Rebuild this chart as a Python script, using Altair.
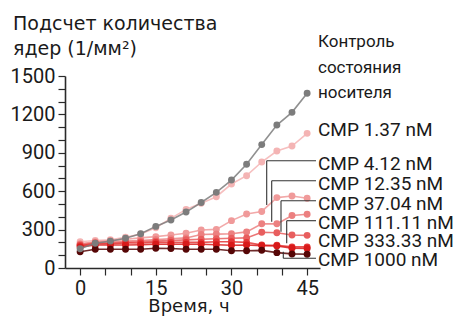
import altair as alt
import pandas as pd

# ---- data ----
hours = [0, 3, 6, 9, 12, 15, 18, 21, 24, 27, 30, 33, 36, 39, 42, 45]

control = [150, 193, 210, 232, 268, 325, 375, 437, 512, 591, 687, 811, 964, 1117, 1216, 1365]
cmp_1_37 = [205, 215, 220, 240, 265, 315, 388, 458, 505, 557, 656, 721, 828, 914, 953, 1052]
cmp_4_12 = [190, 205, 215, 225, 235, 245, 258, 271, 297, 302, 370, 422, 442, 550, 562, 545]
cmp_12_35 = [185, 200, 205, 210, 215, 222, 228, 235, 262, 265, 268, 282, 345, 345, 410, 420]
cmp_37_04 = [180, 195, 195, 200, 205, 210, 215, 220, 225, 228, 232, 235, 279, 275, 258, 255]
cmp_111_11 = [175, 190, 190, 195, 195, 200, 200, 200, 200, 205, 205, 200, 180, 178, 165, 165]
cmp_333_33 = [165, 180, 180, 180, 182, 185, 185, 185, 185, 182, 178, 180, 175, 172, 155, 152]
cmp_1000 = [127, 146, 146, 146, 146, 154, 152, 146, 146, 146, 135, 135, 138, 120, 110, 108]

series_names = ["Контроль состояния носителя", "CMP 1.37 nM", "CMP 4.12 nM", "CMP 12.35 nM",
                "CMP 37.04 nM", "CMP 111.11 nM", "CMP 333.33 nM", "CMP 1000 nM"]
series_values = [control, cmp_1_37, cmp_4_12, cmp_12_35, cmp_37_04, cmp_111_11, cmp_333_33, cmp_1000]
series_colors = ["#7c7c7c", "#f4b4b4", "#f09a9a", "#ec8080", "#e85e5e", "#e43636", "#d81a1a", "#560606"]

x_ticks = list(range(0, 50, 5))
y_ticks = list(range(0, 1501, 100))

rows = []
for name, vals in zip(series_names, series_values):
    for t, v in zip(hours, vals):
        rows.append({"series": name, "t": t, "v": v})
df = pd.DataFrame(rows)

# ---- encodings ----
x_enc = alt.X("t:Q",
              scale=alt.Scale(domain=[-3, 47.55], nice=False, zero=False),
              axis=alt.Axis(values=x_ticks, title=None, grid=False,
                            labelExpr="datum.value % 15 == 0 ? datum.label : ''",
                            labelPadding=3))
y_enc = alt.Y("v:Q",
              scale=alt.Scale(domain=[0, 1500], nice=False),
              axis=alt.Axis(values=y_ticks, title=None, grid=False, format="d",
                            labelExpr="datum.value % 300 == 0 ? datum.label : ''",
                            labelPadding=3))

draw_order = [1, 2, 3, 4, 5, 6, 7, 0]
layers = []
for i in draw_order:
    name = series_names[i]
    col = series_colors[i]
    base = alt.Chart(df).transform_filter(alt.datum.series == name)
    layers.append(base.mark_line(color=col, strokeWidth=1.6, opacity=0.85).encode(x=x_enc, y=y_enc))
    layers.append(base.mark_circle(color=col, size=48, opacity=1).encode(x=x_enc, y=y_enc))

one = pd.DataFrame({"a": [0]})

def txt(s, x, y, size, font, align="left"):
    return alt.Chart(one).mark_text(text=s, align=align, baseline="alphabetic", fontSize=size,
                                    font=font, color="#1a1a1a").encode(x=alt.value(x), y=alt.value(y))

def rule(x1, y1, x2, y2):
    return alt.Chart(one).mark_rule(color="#333333", strokeWidth=1.1).encode(
        x=alt.value(x1), x2=alt.value(x2), y=alt.value(y1), y2=alt.value(y2))

# plot origin on page = (65, 76)
ox, oy = 65, 76
annot = []
annot.append(txt("Подсчет количества", 13 - ox, 30 - oy, 19, "DejaVu Sans"))
annot.append(txt("ядер (1/мм²)", 13 - ox, 55 - oy, 19, "DejaVu Sans"))
annot.append(txt("Время, ч", 189 - ox, 312 - oy, 18, "DejaVu Sans", align="center"))

lx = 318 - ox
annot.append(txt("Контроль", lx, 47 - oy, 17, "Roboto"))
annot.append(txt("состояния", lx, 73 - oy, 17, "Roboto"))
annot.append(txt("носителя", lx, 98 - oy, 17, "Roboto"))
label_baselines = [136, 169.5, 189.5, 209.5, 228.5, 247, 266]
for name, yb in zip(series_names[1:], label_baselines):
    annot.append(txt(name, lx, yb - oy, 19, "Roboto"))

# leader lines (page coordinates converted to plot coordinates)
leaders = [
    (266.7, 160.7, 205.0),
    (271.7, 180.7, 221.7),
    (281.0, 200.7, 231.7),
    (286.7, 220.7, 243.3),
]
xr = 316
for xv, yh, yend in leaders:
    annot.append(rule(xv - ox, yh - oy, xr - ox, yh - oy))
    annot.append(rule(xv - ox, yh - oy, xv - ox, yend - oy))
annot.append(rule(283.3 - ox, 258.3 - oy, xr - ox, 258.3 - oy))
annot.append(rule(283.3 - ox, 251.7 - oy, 283.3 - ox, 258.3 - oy))

chart = alt.layer(*layers, *annot).properties(
    width=255, height=192,
    padding={"left": 57, "top": 68, "right": 138, "bottom": 49},
    autosize=alt.AutoSizeParams(type="none"),
    background="white",
).configure_view(stroke=None).configure_axis(
    labelFont="Roboto", labelFontSize=20, labelColor="#1a1a1a",
    domainColor="#2a2a2a", domainWidth=1.6, tickColor="#2a2a2a", tickWidth=1.2, tickSize=7,
)

chart.save("out.html", embed_options={"renderer": "svg", "actions": False})
